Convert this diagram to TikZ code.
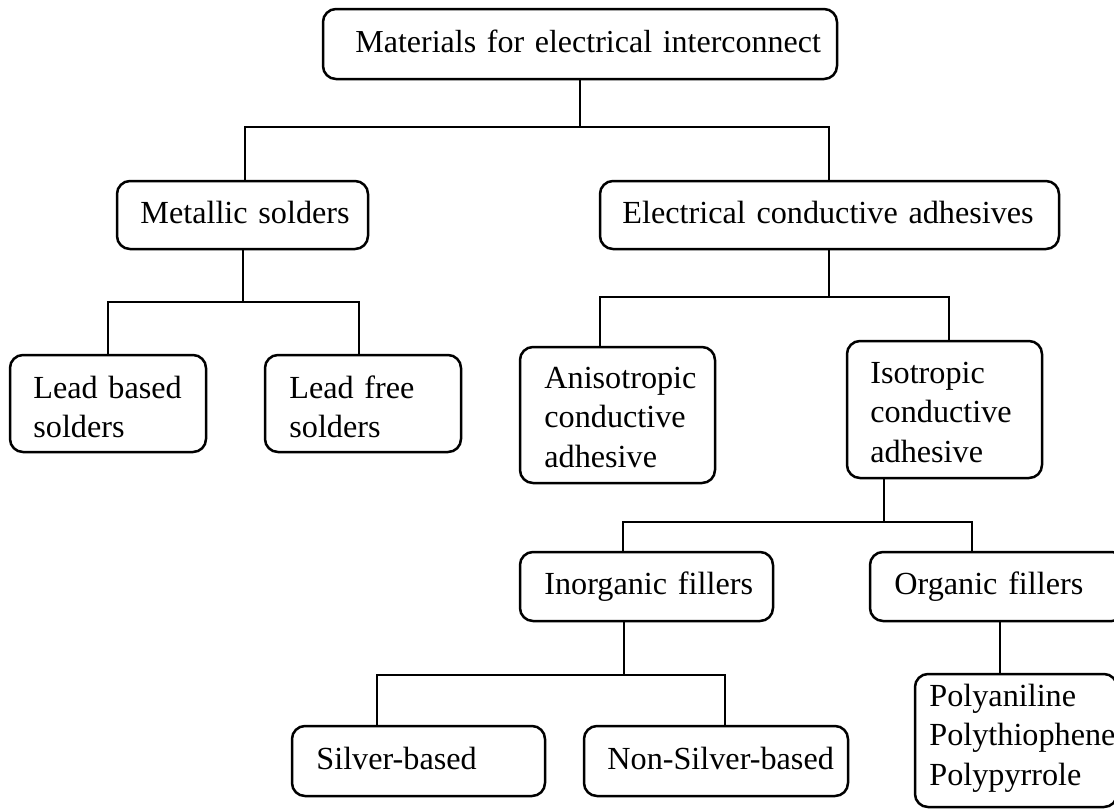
\documentclass[tikz,border=0pt]{standalone}
\usepackage{fontspec}
\setmainfont{Liberation Serif}
\begin{document}
\begin{tikzpicture}[x=0.5pt,y=-0.5pt,
  box/.style={draw=black, line width=1.25pt, rounded corners=6.5pt, inner sep=0pt},
  txt/.style={anchor=base west, inner sep=0pt, text width=300pt, align=left,
              font=\fontsize{16.1pt}{19.75pt}\selectfont},
  conn/.style={draw=black, line width=1.25pt}]
\useasboundingbox (0,0) rectangle (1114,809);
\clip (0,0) rectangle (1114,809);

% boxes
\node[box, minimum width=257pt,   minimum height=35pt]   (top)   at (580,44) {};
\node[box, minimum width=125.5pt, minimum height=34pt]   (ms)    at (242.5,215) {};
\node[box, minimum width=229.5pt, minimum height=34pt]   (eca)   at (829.5,215) {};
\node[box, minimum width=98pt,    minimum height=48.5pt] (lb)    at (108,403.5) {};
\node[box, minimum width=98pt,    minimum height=48.5pt] (lf)    at (363,403.5) {};
\node[box, minimum width=97.5pt,  minimum height=68pt]   (an)    at (617.5,415) {};
\node[box, minimum width=97.5pt,  minimum height=68.5pt] (iso)   at (944.5,409.5) {};
\node[box, minimum width=126.5pt, minimum height=34.5pt] (inorg) at (646.5,586.5) {};
\node[box, minimum width=127.5pt, minimum height=34.5pt] (org)   at (997.5,586.5) {};
\node[box, minimum width=101pt,   minimum height=66.5pt] (poly)  at (1016,740.5) {};
\node[box, minimum width=126.5pt, minimum height=35pt]   (ag)    at (418.5,761) {};
\node[box, minimum width=132pt,   minimum height=35pt]   (nag)   at (716,761) {};

% texts
\node[txt, font=\fontsize{16pt}{19.75pt}\selectfont] (ttop) at (355,52) {Materials for electrical interconnect};
\node[txt] (tms)    at (140,223) {Metallic solders};
\node[txt] (teca)   at (622,223) {Electrical conductive adhesives};
\node[txt] (tlb)    at (33,398)  {Lead based\\solders};
\node[txt] (tlf)    at (289,398) {Lead free\\solders};
\node[txt] (tan)    at (544,388) {Anisotropic\\conductive\\adhesive};
\node[txt] (tiso)   at (870,383) {Isotropic\\conductive\\adhesive};
\node[txt] (tinorg) at (544,594) {Inorganic fillers};
\node[txt] (torg)   at (894,594) {Organic fillers};
\node[txt] (tpoly)  at (929,706) {Polyaniline\\Polythiophene\\Polypyrrole};
\node[txt] (tag)    at (316,769) {Silver-based};
\node[txt] (tnag)   at (607,769) {Non-Silver-based};

% junction coordinates
\coordinate (b1) at (580,127); \coordinate (b1l) at (245,127); \coordinate (b1r) at (829,127);
\coordinate (b2) at (243,302); \coordinate (b2l) at (108,302); \coordinate (b2r) at (359,302);
\coordinate (b3) at (829,297); \coordinate (b3l) at (600,297); \coordinate (b3r) at (949,297);
\coordinate (b4) at (884,522); \coordinate (b4l) at (623,522); \coordinate (b4r) at (972,522);
\coordinate (b5) at (624,675); \coordinate (b5l) at (377,675); \coordinate (b5r) at (725,675);
\coordinate (b6) at (1000,650);

% connectors
\draw[conn] (top.south -| b1) -- (b1);
\draw[conn] (ms.north -| b1l) -- (b1l) -- (b1r) -- (eca.north -| b1r);
\draw[conn] (ms.south -| b2) -- (b2);
\draw[conn] (lb.north -| b2l) -- (b2l) -- (b2r) -- (lf.north -| b2r);
\draw[conn] (eca.south -| b3) -- (b3);
\draw[conn] (an.north -| b3l) -- (b3l) -- (b3r) -- (iso.north -| b3r);
\draw[conn] (iso.south -| b4) -- (b4);
\draw[conn] (inorg.north -| b4l) -- (b4l) -- (b4r) -- (org.north -| b4r);
\draw[conn] (inorg.south -| b5) -- (b5);
\draw[conn] (ag.north -| b5l) -- (b5l) -- (b5r) -- (nag.north -| b5r);
\draw[conn] (org.south -| b6) -- (poly.north -| b6);
\end{tikzpicture}
\end{document}
